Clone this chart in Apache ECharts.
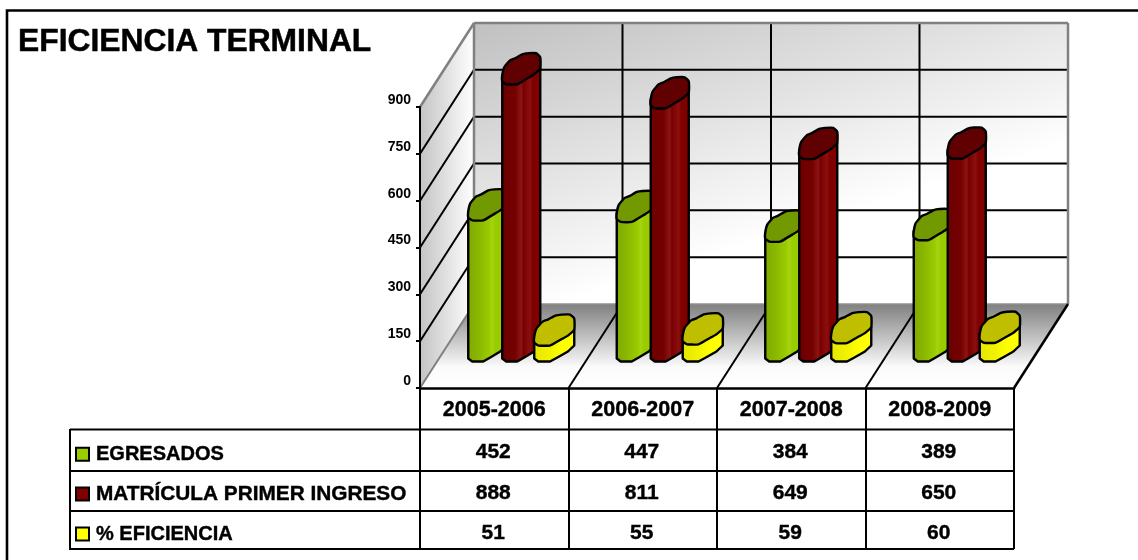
<!DOCTYPE html>
<html><head><meta charset="utf-8">
<style>html,body{margin:0;padding:0;background:#fff}#c{width:1138px;height:560px}</style>
<script src="https://cdn.jsdelivr.net/npm/echarts@6/dist/echarts.min.js"></script>
</head><body><div id="c"></div>
<script>
const categories = ['2005-2006','2006-2007','2007-2008','2008-2009'];
const egresados = [452,447,384,389];
const matricula = [888,811,649,650];
const eficiencia = [51,55,59,60];
const yTicks = [0,150,300,450,600,750,900];
const seriesNames = ['EGRESADOS','MATRÍCULA PRIMER INGRESO','% EFICIENCIA'];

const F = '"Liberation Sans",Arial,sans-serif';
const G = {l:420,r:1014,t:107,b:388}, D = {x:54,y:-84};
const capProfile = [[0,-9],[2,-17],[8,-24],[13,-26],[20,-30],[26,-31],[34,-31],[38,-27],[38,-16],[32,-10],[27,-7],[22,-4],[15,0],[4,0],[0,-3]];
function grad(stops){return {type:'linear',x:0,y:0,x2:1,y2:0,colorStops:stops.map(s=>({offset:s[0],color:s[1]}))};}

function wallItem(params, api){
  const yOf = v => api.coord([0,v])[1];
  const line=(x1,y1,x2,y2,c,w)=>({type:'line',shape:{x1,y1,x2,y2},style:{stroke:c,lineWidth:w},silent:true});
  const top=yOf(900), bot=yOf(0);
  const ch=[];
  ch.push({type:'polygon',shape:{points:[[G.l,bot],[G.l+D.x,bot+D.y],[G.l+D.x,top+D.y],[G.l,top]]},
    style:{fill:{type:'linear',x:0,y:0,x2:1,y2:0,colorStops:[{offset:0,color:'#c4c4c4'},{offset:1,color:'#ffffff'}]}}});
  ch.push({type:'rect',shape:{x:G.l+D.x,y:top+D.y,width:G.r-G.l,height:bot-top},
    style:{fill:{type:'linear',x:0,y:0,x2:0.15,y2:1,colorStops:[{offset:0,color:'#c0c0c0'},{offset:1,color:'#ffffff'}]}}});
  ch.push({type:'polygon',shape:{points:[[G.l,bot],[G.r,bot],[G.r+D.x,bot+D.y],[G.l+D.x,bot+D.y]]},
    style:{fill:{type:'linear',x:0,y:0,x2:0,y2:1,colorStops:[{offset:0,color:'#808080'},{offset:0.75,color:'#fbfbfb'},{offset:1,color:'#ffffff'}]}}});
  yTicks.slice(1,-1).forEach(v=>{
    const y=yOf(v);
    ch.push(line(G.l,y,G.l+D.x,y+D.y,'#000',2));
    ch.push(line(G.l+D.x,y+D.y,G.r+D.x,y+D.y,'#000',2));
  });
  const step=(G.r-G.l)/categories.length;
  for(let i=1;i<categories.length;i++){
    const x=G.l+step*i;
    ch.push(line(x,bot,x+D.x,bot+D.y,'#000',2));
    ch.push(line(x+D.x,bot+D.y,x+D.x,top+D.y,'#000',2));
  }
  ch.push(line(G.l,bot,G.l+D.x,bot+D.y,'#808080',2));
  ch.push(line(G.l,top,G.l+D.x,top+D.y,'#808080',2.5));
  ch.push(line(G.l+D.x,top+D.y,G.r+D.x,top+D.y,'#808080',2.5));
  ch.push(line(G.l+D.x,top+D.y,G.l+D.x,bot+D.y,'#808080',2.5));
  ch.push(line(G.r+D.x,top+D.y,G.r+D.x,bot+D.y,'#808080',2.5));
  ch.push(line(G.l+D.x,bot+D.y,G.r+D.x,bot+D.y,'#909090',1.5));
  ch.push(line(G.r,bot,G.r+D.x,bot+D.y,'#000',2.5));
  return {type:'group',children:ch};
}

function barRenderer(off,w,body,cap,rowY){
  const k=w/38;
  return function(params,api){
    const p=api.coord([api.value(0),api.value(1)]);
    const p0=api.coord([api.value(0),0]);
    const x0=p[0]+off, base=p0[1]-26.5, h=p0[1]-p[1], ty=base-h;
    const bodyPts=[[x0,ty-9],[x0,base-3],[x0+4,base],[x0+15*k,base],[x0+22*k,base-4],[x0+27*k,base-7],[x0+32*k,base-10],[x0+w,base-16],[x0+w,ty-16]];
    const capPts=capProfile.map(q=>[x0+q[0]*k,ty+q[1]]);
    return {type:'group',children:[
      {type:'polygon',shape:{points:bodyPts},style:{fill:grad(body),stroke:'#000',lineWidth:2.4,lineJoin:'round'}},
      {type:'polygon',shape:{points:capPts,smooth:0.15},style:{fill:cap,stroke:'#000',lineWidth:2.4}},
      {type:'text',x:p[0]-1,y:rowY,style:{text:String(api.value(1)),font:'bold 21px '+F,fill:'#000',stroke:'#000',lineWidth:0.4,align:'center',verticalAlign:'middle'},silent:true}
    ]};
  };
}
const seq=a=>a.map((v,i)=>[i,v]);
const greenStops=[[0,'#7fa800'],[0.3,'#8bb800'],[0.55,'#99cc00'],[0.62,'#a6d410'],[0.7,'#99cc00'],[1,'#99cc00']];
const redStops=[[0,'#6b0000'],[0.35,'#750000'],[0.5,'#8a1515'],[0.55,'#7a0000'],[0.72,'#8a1010'],[0.78,'#800000'],[1,'#800000']];
const yelStops=[[0,'#e6e600'],[0.4,'#f2f200'],[0.7,'#ffff00'],[1,'#ffff00']];
const heavy={textBorderColor:'#000',textBorderWidth:0.4};

const chart=echarts.init(document.getElementById('c'),null,{renderer:'canvas'});
chart.setOption({
  animation:false,
  backgroundColor:'#fff',
  title:{text:'EFICIENCIA TERMINAL',left:13,top:21,textStyle:{fontFamily:F,fontWeight:'bold',fontSize:31.8,color:'#000',textBorderColor:'#000',textBorderWidth:0.5}},
  grid:{left:G.l,right:1138-G.r,top:G.t,bottom:560-G.b,containLabel:false},
  legend:{orient:'vertical',left:70,top:439,itemWidth:13,itemHeight:13,itemGap:19,selectedMode:false,
    textStyle:{fontFamily:F,fontWeight:'bold',fontSize:20,color:'#000',padding:[0,0,0,2]},
    data:seriesNames.map((n,i)=>({name:n,icon:'rect',itemStyle:{borderColor:'#000',borderWidth:2},
      textStyle:{fontFamily:F,fontWeight:'bold',fontSize:i===1?20.8:20,color:'#000',padding:[0,0,0,2],...heavy}}))},
  xAxis:{type:'category',data:categories,boundaryGap:true,z:6,
    axisLine:{lineStyle:{color:'#000',width:2.5}},
    axisTick:{show:true,length:161,lineStyle:{color:'#000',width:2}},
    axisLabel:{margin:11,fontFamily:F,fontWeight:'bold',fontSize:21.5,color:'#000',...heavy}},
  yAxis:{type:'value',min:0,max:900,interval:150,z:6,splitLine:{show:false},
    axisLine:{show:true,lineStyle:{color:'#000',width:2}},
    axisTick:{show:true,length:4,lineStyle:{color:'#000',width:2}},
    axisLabel:{margin:9,fontFamily:F,fontWeight:'bold',fontSize:14,color:'#000',verticalAlign:'bottom'}},
  graphic:{elements:[
    {type:'polyline',shape:{points:[[7,561],[7,10.5],[1140,10.5]]},style:{fill:'none',stroke:'#000',lineWidth:2.6},z:10,silent:true},
    ...[429.5,471,511,549].map(y=>({type:'line',shape:{x1:70,y1:y,x2:G.r,y2:y},style:{stroke:'#000',lineWidth:2},z:10,silent:true})),
    {type:'line',shape:{x1:70,y1:429,x2:70,y2:550},style:{stroke:'#000',lineWidth:2},z:10,silent:true}
  ]},
  series:[
    {type:'custom',name:'walls',z:1,silent:true,data:[[0,0]],renderItem:wallItem,clip:false,encode:{x:0,y:1}},
    {type:'custom',name:seriesNames[0],z:3,silent:true,clip:false,itemStyle:{color:'#99cc00'},data:seq(egresados),encode:{x:0,y:1},renderItem:barRenderer(-26,38,greenStops,'#739900',452)},
    {type:'custom',name:seriesNames[1],z:4,silent:true,clip:false,itemStyle:{color:'#800000'},data:seq(matricula),encode:{x:0,y:1},renderItem:barRenderer(8,38,redStops,'#600000',493)},
    {type:'custom',name:seriesNames[2],z:5,silent:true,clip:false,itemStyle:{color:'#ffff00'},data:seq(eficiencia),encode:{x:0,y:1},renderItem:barRenderer(40,40,yelStops,'#bfbf00',533)}
  ]
});
</script></body></html>
